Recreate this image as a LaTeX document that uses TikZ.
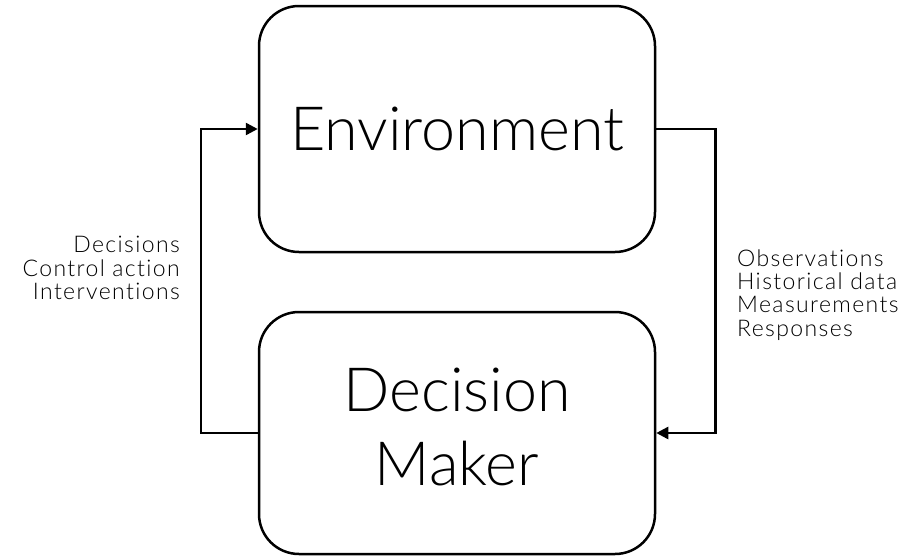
\documentclass[tikz,border=0pt]{standalone}
\usepackage{fontspec}
\setmainfont{Lato Light}[Ligatures={NoCommon,NoRequired,NoContextual}]
\newfontfamily\lblfont{Lato Light}[Ligatures={NoCommon,NoRequired,NoContextual},LetterSpace=6]
\usetikzlibrary{arrows.meta}
\tikzset{
  bigbox/.style={draw=black, line width=2.5pt, rounded corners=40pt, minimum width=396pt, align=center, font=\fontsize{61}{74}\selectfont},
  conn/.style={draw=black, line width=2.5pt, -{Triangle[length=12pt,width=12pt]}},
  lbl/.style={font=\lblfont\fontsize{23}{23.3}\selectfont, inner sep=0pt}
}
\begin{document}
\begin{tikzpicture}[x=1pt,y=-1pt]
\useasboundingbox (0,0) rectangle (912,557);
\node[bigbox, minimum height=246pt] (env) at (457,129) {Environment};
\node[bigbox, minimum height=242pt] (dm) at (457,433) {Decision\\Maker\rule[-12pt]{0pt}{1pt}};
\draw[conn] (dm.west) -- ++(-57,0) |- (env.west);
\draw[conn] (env.east) -- ++(59,0) |- (dm.east);
\node[lbl, align=right, anchor=east] (left) at (180,268) {Decisions\\Control action\\Interventions};
\node[lbl, align=left, anchor=west] (right) at (737,295) {Observations\\Historical data\\Measurements\\Responses};
\end{tikzpicture}
\end{document}
